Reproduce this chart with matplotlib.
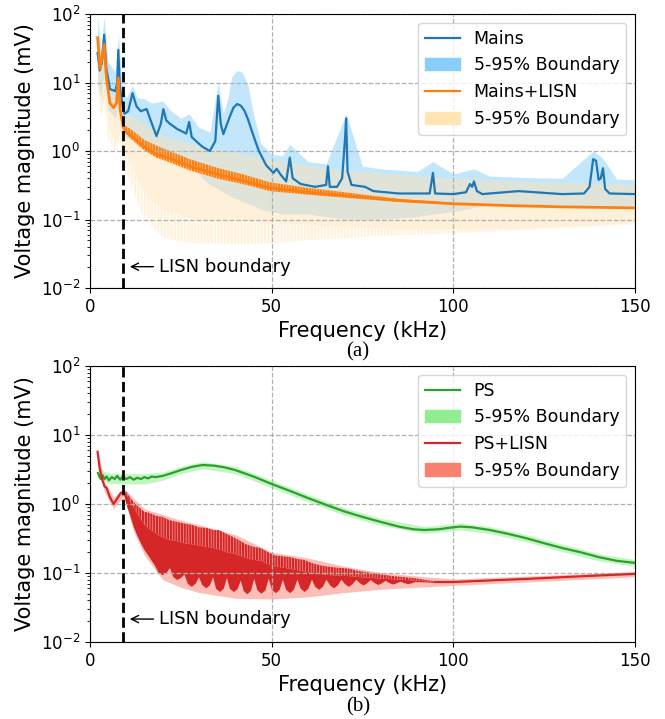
import numpy as np
import matplotlib.pyplot as plt
from matplotlib.patches import Patch
from matplotlib.lines import Line2D

plt.rcParams['hatch.linewidth'] = 1.6

# ---------------- (a) Mains vs Mains+LISN ----------------
mains_f = [2.1, 2.7, 3.3, 3.9, 4.5, 5.5, 7.0, 7.5, 7.8, 8.2, 9.0, 9.5, 10.5, 11.7, 12.8, 14.0,
           15.0, 15.6, 16.5, 18.3, 19.5, 20.2, 21.0, 22.0, 24.0, 26.5, 27.3, 28.0, 29.5, 31.0,
           33.0, 34.5, 35.3, 36.0, 36.7, 37.5, 38.5, 39.5, 40.5, 41.5, 42.5, 43.5, 44.5, 45.5,
           46.5, 48.5, 50.5, 51.4, 52.5,
           54.0, 55.0, 55.8, 58.0, 62.0, 65.0, 65.5, 66.0, 68.0, 69.4, 70.2, 70.5, 70.9, 72.0,
           75.7, 78.0, 85.0, 93.5, 94.4, 95.0, 100.0, 103.5, 104.6, 105.2, 105.7, 106.5, 108.0,
           112.0, 118.0, 125.0, 130.0, 136.0, 137.5, 138.5, 139.3, 140.0, 140.6, 141.2, 141.8,
           143.0, 150.0]
mains_v = [27, 15, 20, 50, 16, 8, 7.5, 10, 30, 9, 4.5, 3.5, 3.8, 7, 4.5, 3.8,
           4.0, 4.1, 3.0, 1.65, 2.5, 4.1, 2.8, 2.5, 2.1, 1.8, 2.65, 1.6, 1.35, 1.15,
           1.0, 1.4, 6.4, 2.5, 1.76, 2.3, 3.2, 4.3, 4.85, 4.6, 3.9, 2.9, 2.0, 1.4,
           1.0, 0.62, 0.48, 0.55, 0.45,
           0.36, 0.8, 0.4, 0.33, 0.3, 0.32, 0.6, 0.3, 0.3, 0.4, 1.5, 3.0, 0.5, 0.32,
           0.3, 0.26, 0.24, 0.24, 0.48, 0.24, 0.235, 0.25, 0.33, 0.3, 0.36, 0.26, 0.235,
           0.245, 0.26, 0.245, 0.235, 0.24, 0.3, 0.76, 0.72, 0.38, 0.4, 0.56, 0.28,
           0.24, 0.235]

mains_band_f = [2.1, 3.0, 3.9, 5, 7, 7.8, 9, 10, 11.7, 13, 15, 17, 20, 22, 25, 27.3, 30, 33,
                35.3, 36.7, 38, 39, 40.5, 42, 43.5, 45, 47, 50, 53, 55, 60, 65, 70.5, 75, 80,
                90, 94.4, 100, 105.7, 110, 120, 130, 138.5, 141, 145, 150]
mains_hi = [95, 30, 90, 20, 14, 50, 8, 6, 9, 6, 5.8, 5, 5.4, 4, 3, 3.5, 2.2, 1.9,
            10, 3.5, 6, 12, 15, 14, 9, 3.5, 1.3, 0.9, 0.85, 1.25, 0.7, 0.65, 3.5, 0.6, 0.55,
            0.5, 0.7, 0.46, 0.55, 0.43, 0.41, 0.4, 1.0, 0.8, 0.39, 0.38]
mains_lo = [10, 6, 15, 4, 3, 5, 1.8, 1.6, 1.4, 1.2, 1.05, 0.9, 0.85, 0.75, 0.65, 0.6, 0.45, 0.32,
            0.28, 0.25, 0.23, 0.21, 0.2, 0.18, 0.17, 0.16, 0.14, 0.13, 0.12, 0.12, 0.12, 0.11,
            0.1, 0.1, 0.1, 0.11, 0.12, 0.13, 0.15, 0.16, 0.16, 0.16, 0.16, 0.16, 0.16, 0.16]

lisn_f = [2.1, 2.8, 3.3, 3.9, 4.5, 5.5, 6.5, 7.3, 7.8, 8.3, 9.2, 10, 12, 15, 18.3, 22, 27.5,
          35.5, 42, 49.5, 60, 71.5, 85, 100, 115, 130, 150]
lisn_v = [45, 16, 22, 36, 12, 5, 4.3, 5, 11.7, 4, 2.2, 1.9, 1.55, 1.15, 0.9, 0.78, 0.6,
          0.45, 0.37, 0.29, 0.25, 0.22, 0.19, 0.17, 0.16, 0.153, 0.148]
lisn_tooth_hi = [45, 16, 22, 36, 12, 5, 4.3, 5, 11.7, 4, 2.4, 2.3, 1.95, 1.45, 1.2, 1.0, 0.76,
                 0.56, 0.46, 0.35, 0.29, 0.245, 0.2, 0.175, 0.163, 0.155, 0.15]
lisn_tooth_lo = [45, 16, 22, 36, 12, 5, 4.3, 5, 11.7, 4, 2.0, 1.75, 1.4, 1.02, 0.8, 0.68, 0.52,
                 0.39, 0.33, 0.26, 0.23, 0.205, 0.18, 0.165, 0.157, 0.151, 0.146]

lisn_band_f = [2.1, 3.0, 3.9, 5, 7, 7.8, 9, 10, 12, 14, 17, 20, 25, 30, 40, 50, 60, 66, 80,
               100, 120, 150]
lisn_hi = [50, 20, 40, 8, 6, 14, 4, 3.5, 3.1, 2.7, 2.1, 1.7, 1.4, 1.2, 0.95, 0.75, 0.62, 0.55,
           0.48, 0.4, 0.36, 0.33]
lisn_lo_solid = [9, 4, 6, 2, 1.4, 1.8, 1.1, 0.8, 0.5, 0.3, 0.19, 0.14, 0.115, 0.1, 0.095,
                 0.09, 0.085, 0.08, 0.075, 0.072, 0.075, 0.09]
lisn_lo = [8, 3, 5, 1.5, 1.0, 1.5, 0.8, 0.5, 0.25, 0.13, 0.08, 0.055, 0.047, 0.045, 0.044,
           0.045, 0.05, 0.052, 0.058, 0.063, 0.07, 0.085]

# ---------------- (b) PS vs PS+LISN ----------------
ps_f = [2.2, 2.6, 3.0, 3.5, 4.0, 4.6, 5.2, 6.0, 6.8, 7.5, 8.3, 9.0, 10, 11, 12, 13, 14, 15, 16,
        17, 18, 20, 22.5, 25, 28, 31, 34, 37, 40, 45, 50, 55, 60, 65, 70, 75, 80, 85, 89,
        92, 96, 100, 102, 105, 110, 115, 120, 125, 130, 135, 140, 145, 150]
ps_v = [2.8, 2.5, 2.3, 2.6, 2.3, 2.5, 2.2, 2.45, 2.3, 2.55, 2.25, 2.5, 2.3, 2.45, 2.25, 2.4,
        2.3, 2.45, 2.35, 2.5, 2.45, 2.55, 2.8, 3.1, 3.45, 3.67, 3.6, 3.4, 3.1, 2.5, 1.95,
        1.55, 1.22, 0.97, 0.78, 0.65, 0.55, 0.47, 0.43, 0.42, 0.43, 0.46, 0.47, 0.46, 0.42,
        0.37, 0.32, 0.27, 0.23, 0.2, 0.17, 0.15, 0.14]
ps_band_f = [2.2, 5, 10, 15, 20, 25, 31, 40, 50, 60, 70, 80, 92, 102, 110, 120, 130, 140, 150]
ps_hi = [3.3, 2.8, 2.75, 2.75, 2.9, 3.5, 4.1, 3.5, 2.2, 1.37, 0.88, 0.62, 0.47, 0.53, 0.47,
         0.36, 0.26, 0.19, 0.157]
ps_lo = [2.4, 2.0, 1.95, 1.95, 2.2, 2.75, 3.25, 2.75, 1.72, 1.08, 0.69, 0.49, 0.375, 0.42,
         0.375, 0.285, 0.205, 0.15, 0.125]

# PS+LISN below the LISN boundary and in the smooth high-frequency tail
pslisn_low_f = [2.1, 2.6, 3.2, 4.0, 4.6, 5.5, 6.5, 7.5, 8.5, 9.3]
pslisn_low_v = [5.7, 3.5, 2.4, 1.8, 1.7, 1.25, 1.0, 1.2, 1.45, 1.5]
pslisn_tail_f = [95, 100, 110, 120, 130, 140, 150]
pslisn_tail_v = [0.074, 0.074, 0.078, 0.082, 0.087, 0.092, 0.097]

# comb region: tooth tips, top of the solid part, scalloped bottom
comb_f = [9.3, 10, 11, 12, 13, 14, 15, 16, 17, 18, 19, 20, 22, 24, 26, 28, 30, 32, 34, 35.5,
          37.5, 39.5, 41, 43, 45, 47, 49, 51, 53, 55, 57, 59, 61, 63, 65, 67.5, 69.5, 71.5,
          73.5, 75.5, 77.5, 79.5, 81.5, 83.5, 85.5, 87.5, 89.5, 92, 95]
comb_top = [1.5, 1.5, 1.25, 1.07, 0.95, 0.85, 0.77, 0.75, 0.72, 0.68, 0.66, 0.65, 0.58, 0.55,
            0.52, 0.5, 0.46, 0.45, 0.42, 0.42, 0.37, 0.33, 0.3, 0.26, 0.24, 0.23, 0.2, 0.18,
            0.175, 0.17, 0.16, 0.155, 0.14, 0.13, 0.125, 0.12, 0.118, 0.115, 0.108, 0.104,
            0.1, 0.096, 0.093, 0.09, 0.088, 0.086, 0.084, 0.08, 0.076]
comb_mid = [1.5, 1.4, 1.1, 0.9, 0.72, 0.6, 0.5, 0.45, 0.41, 0.38, 0.35, 0.33, 0.3, 0.29,
            0.27, 0.26, 0.25, 0.24, 0.23, 0.22, 0.2, 0.19, 0.18, 0.165, 0.155, 0.15, 0.135,
            0.125, 0.12, 0.115, 0.11, 0.105, 0.1, 0.097, 0.094, 0.092, 0.091, 0.09, 0.088,
            0.086, 0.085, 0.083, 0.082, 0.081, 0.08, 0.079, 0.078, 0.076, 0.074]
comb_bot_f = [9.3, 10, 11, 12, 13, 14, 15, 16, 17, 18, 18.9, 20, 21.1, 22, 22.9, 24, 25.1, 26,
              26.9, 28, 29.1, 30, 30.9, 32, 33, 33.9, 34.7, 35.8, 36.8, 37.7, 38.5, 39.6,
              40.6, 41.5, 42.3, 43.3, 44.3, 45.2, 46.1, 47.2, 48.3, 49.2, 50.1, 51.2, 52.2,
              53.1, 54.0, 55.1, 56.1, 57.1, 58.0, 59.1, 60.1, 61.1, 62.0, 63.1, 64.1, 65.1,
              66.1, 67.2, 68.2, 69.2, 70.2, 71.3, 72.3, 73.3, 74.3, 75.3, 76.3, 77.3, 78.4,
              79.4, 80.4, 81.4, 82.5, 83.5, 84.5, 85.5, 86.6, 87.6, 88.6, 89.6, 95]
comb_bot = [1.45, 1.0, 0.7, 0.47, 0.35, 0.27, 0.215, 0.18, 0.15, 0.125, 0.1, 0.093, 0.1,
            0.118, 0.088, 0.079, 0.085, 0.095, 0.07, 0.063, 0.07, 0.087, 0.067, 0.06, 0.066,
            0.087, 0.059, 0.053, 0.059, 0.085, 0.059, 0.053, 0.058, 0.078, 0.055, 0.049,
            0.055, 0.082, 0.056, 0.05, 0.056, 0.083, 0.057, 0.051, 0.057, 0.08, 0.057, 0.051,
            0.057, 0.08, 0.059, 0.053, 0.059, 0.08, 0.063, 0.057, 0.063, 0.08, 0.066, 0.06,
            0.066, 0.08, 0.069, 0.063, 0.069, 0.08, 0.071, 0.066, 0.071, 0.079, 0.071, 0.067,
            0.071, 0.077, 0.071, 0.068, 0.071, 0.075, 0.071, 0.069, 0.071, 0.074, 0.072]

pink_f = [2.1, 4.0, 6.5, 9.3, 12, 15, 20, 25, 30, 40, 50, 60, 70, 80, 90, 100, 120, 150]
pink_hi = [6.2, 2.1, 1.25, 1.7, 1.2, 0.85, 0.7, 0.58, 0.5, 0.36, 0.2, 0.165, 0.125, 0.102,
           0.09, 0.082, 0.09, 0.105]
pink_lo = [5.2, 1.5, 0.85, 1.3, 0.4, 0.18, 0.08, 0.062, 0.052, 0.043, 0.042, 0.045, 0.052,
           0.058, 0.062, 0.066, 0.074, 0.088]

LISN_KHZ = 9

fig = plt.figure(figsize=(6.65, 7.19), dpi=100)
ax1 = fig.add_axes([0.1353, 0.5994, 0.8195, 0.3811])
ax2 = fig.add_axes([0.1353, 0.1071, 0.8195, 0.3839])

# panel (a)
ax1.fill_between(mains_band_f, mains_lo, mains_hi, color='lightskyblue', alpha=0.5, lw=0)
ax1.fill_between(lisn_band_f, lisn_lo_solid, lisn_hi, color='moccasin', alpha=0.5, lw=0)
ax1.fill_between(lisn_band_f, lisn_lo, lisn_lo_solid, facecolor='none', edgecolor='#fff1da',
                 hatch='|||||', lw=0)
ax1.plot(mains_f, mains_v, color='tab:blue', lw=1.6)
ax1.fill_between(lisn_f, lisn_tooth_lo, lisn_tooth_hi, facecolor='none', edgecolor='tab:orange',
                 hatch='||||||', lw=0)
ax1.plot(lisn_f, lisn_v, color='tab:orange', lw=2.0)
h1 = [Line2D([], [], color='tab:blue', lw=1.6), Patch(color='lightskyblue'),
      Line2D([], [], color='tab:orange', lw=1.6), Patch(color='moccasin')]
ax1.legend(h1, ['Mains', '5-95% Boundary', 'Mains+LISN', '5-95% Boundary'],
           loc='upper right', fontsize=12.5)

# panel (b)
ax2.fill_between(ps_band_f, ps_lo, ps_hi, color='lightgreen', alpha=0.55, lw=0)
ax2.fill_between(pink_f, pink_lo, pink_hi, color='salmon', alpha=0.5, lw=0)
ax2.plot(ps_f, ps_v, color='tab:green', lw=1.6)
ax2.fill(comb_f + comb_bot_f[::-1], comb_mid + comb_bot[::-1], color='tab:red', lw=0)
ax2.fill_between(comb_f, comb_mid, comb_top, facecolor='none', edgecolor='tab:red',
                 hatch='||||||', lw=0)
ax2.plot(pslisn_low_f, pslisn_low_v, color='tab:red', lw=1.6)
ax2.plot(pslisn_tail_f, pslisn_tail_v, color='tab:red', lw=1.6)
h2 = [Line2D([], [], color='tab:green', lw=1.6), Patch(color='lightgreen'),
      Line2D([], [], color='tab:red', lw=1.6), Patch(color='salmon')]
ax2.legend(h2, ['PS', '5-95% Boundary', 'PS+LISN', '5-95% Boundary'],
           loc='upper right', fontsize=12.5)

for ax, ytxt in [(ax1, 0.0205), (ax2, 0.0215)]:
    ax.set_yscale('log')
    ax.set_ylim(1e-2, 1e2)
    ax.set_xlim(0, 150)
    ax.set_xticks([0, 50, 100, 150])
    ax.grid(True, which='major', linestyle='--', color='#b0b0b0', lw=0.9)
    ax.axvline(LISN_KHZ, color='black', ls='--', lw=2)
    ax.annotate('LISN boundary', xy=(10.2, ytxt), xytext=(19, ytxt), fontsize=13,
                va='center', ha='left', arrowprops=dict(arrowstyle='->', lw=1))
    ax.tick_params(labelsize=12)
    ax.set_xlabel('Frequency (kHz)', fontsize=15)
    ax.set_ylabel('Voltage magnitude (mV)', fontsize=15)

fig.text(0.538, 0.511, '(a)', ha='center', va='center', fontsize=15, family='Liberation Serif')
fig.text(0.538, 0.017, '(b)', ha='center', va='center', fontsize=15, family='Liberation Serif')

fig.savefig('out.png', dpi=100)
